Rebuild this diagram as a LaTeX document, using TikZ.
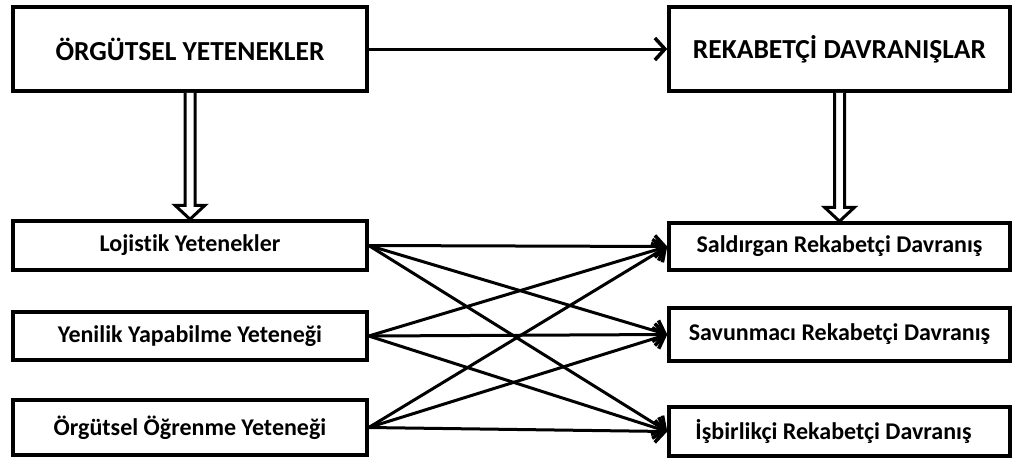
\documentclass[tikz,border=0pt]{standalone}
\usepackage{fontspec}
\setmainfont[Ligatures=NoCommon]{Carlito}
\usetikzlibrary{arrows.meta,calc}

\tikzset{
  bigbox/.style={draw, line width=3.5pt, inner sep=0pt, font=\bfseries\fontsize{27.5}{32}\selectfont},
  smallbox/.style={draw, line width=3.5pt, inner sep=0pt, font=\bfseries\fontsize{24}{28}\selectfont},
  link/.style={line width=3pt, -{Straight Barb[length=10pt,width=22pt,line width=3.5pt]}},
  hollow/.style={line width=3pt, fill=white}
}

\begin{document}
\begin{tikzpicture}[x=1pt,y=-1pt]
  \useasboundingbox (0,0) rectangle (1014,459);

  % ust kutular
  \node[bigbox, minimum width=354pt, minimum height=84pt] (orgyet) at (190,49) {ÖRGÜTSEL YETENEKLER};
  \node[bigbox, minimum width=341pt, minimum height=84pt] (rekdav) at (839.5,49) {REKABETÇİ DAVRANIŞLAR};

  % alt kutular, sol
  \node[smallbox, minimum width=354pt, minimum height=49pt] (lojistik) at (190,245.5) {Lojistik Yetenekler};
  \node[smallbox, minimum width=354pt, minimum height=48pt] (yenilik) at (190,336) {Yenilik Yapabilme Yeteneği};
  \node[smallbox, minimum width=354pt, minimum height=55pt] (ogrenme) at (190,427.5) {Örgütsel Öğrenme Yeteneği};

  % alt kutular, sag
  \node[smallbox, minimum width=341pt, minimum height=47pt] (saldirgan) at (839.5,246.5) {Saldırgan Rekabetçi Davranış};
  \node[smallbox, minimum width=341pt, minimum height=53pt] (savunmaci) at (839.5,334.5) {Savunmacı Rekabetçi Davranış};
  \node[smallbox, minimum width=341pt, minimum height=49pt] (isbirlikci) at (839.5,431.5) {\hspace*{-12pt}İşbirlikçi Rekabetçi Davranış};

  % oklar
  \draw[link] (orgyet.east) -- (rekdav.west);

  \draw[hollow] let \p1=(orgyet.south), \p2=(lojistik.north) in
    (\x1-5pt,\y1) -- (\x1-5pt,\y2+14pt) -- (\x1-15pt,\y2+14pt) -- (\x1,\y2)
    -- (\x1+15pt,\y2+14pt) -- (\x1+5pt,\y2+14pt) -- (\x1+5pt,\y1);
  \draw[hollow] let \p1=(rekdav.south), \p2=(saldirgan.north) in
    (\x1-5pt,\y1) -- (\x1-5pt,\y2+14pt) -- (\x1-15pt,\y2+14pt) -- (\x1,\y2)
    -- (\x1+15pt,\y2+14pt) -- (\x1+5pt,\y2+14pt) -- (\x1+5pt,\y1);

  \foreach \from in {lojistik,yenilik,ogrenme}
    \foreach \to in {saldirgan,savunmaci,isbirlikci}
      \draw[link] (\from.east) -- (\to.west);
\end{tikzpicture}
\end{document}
